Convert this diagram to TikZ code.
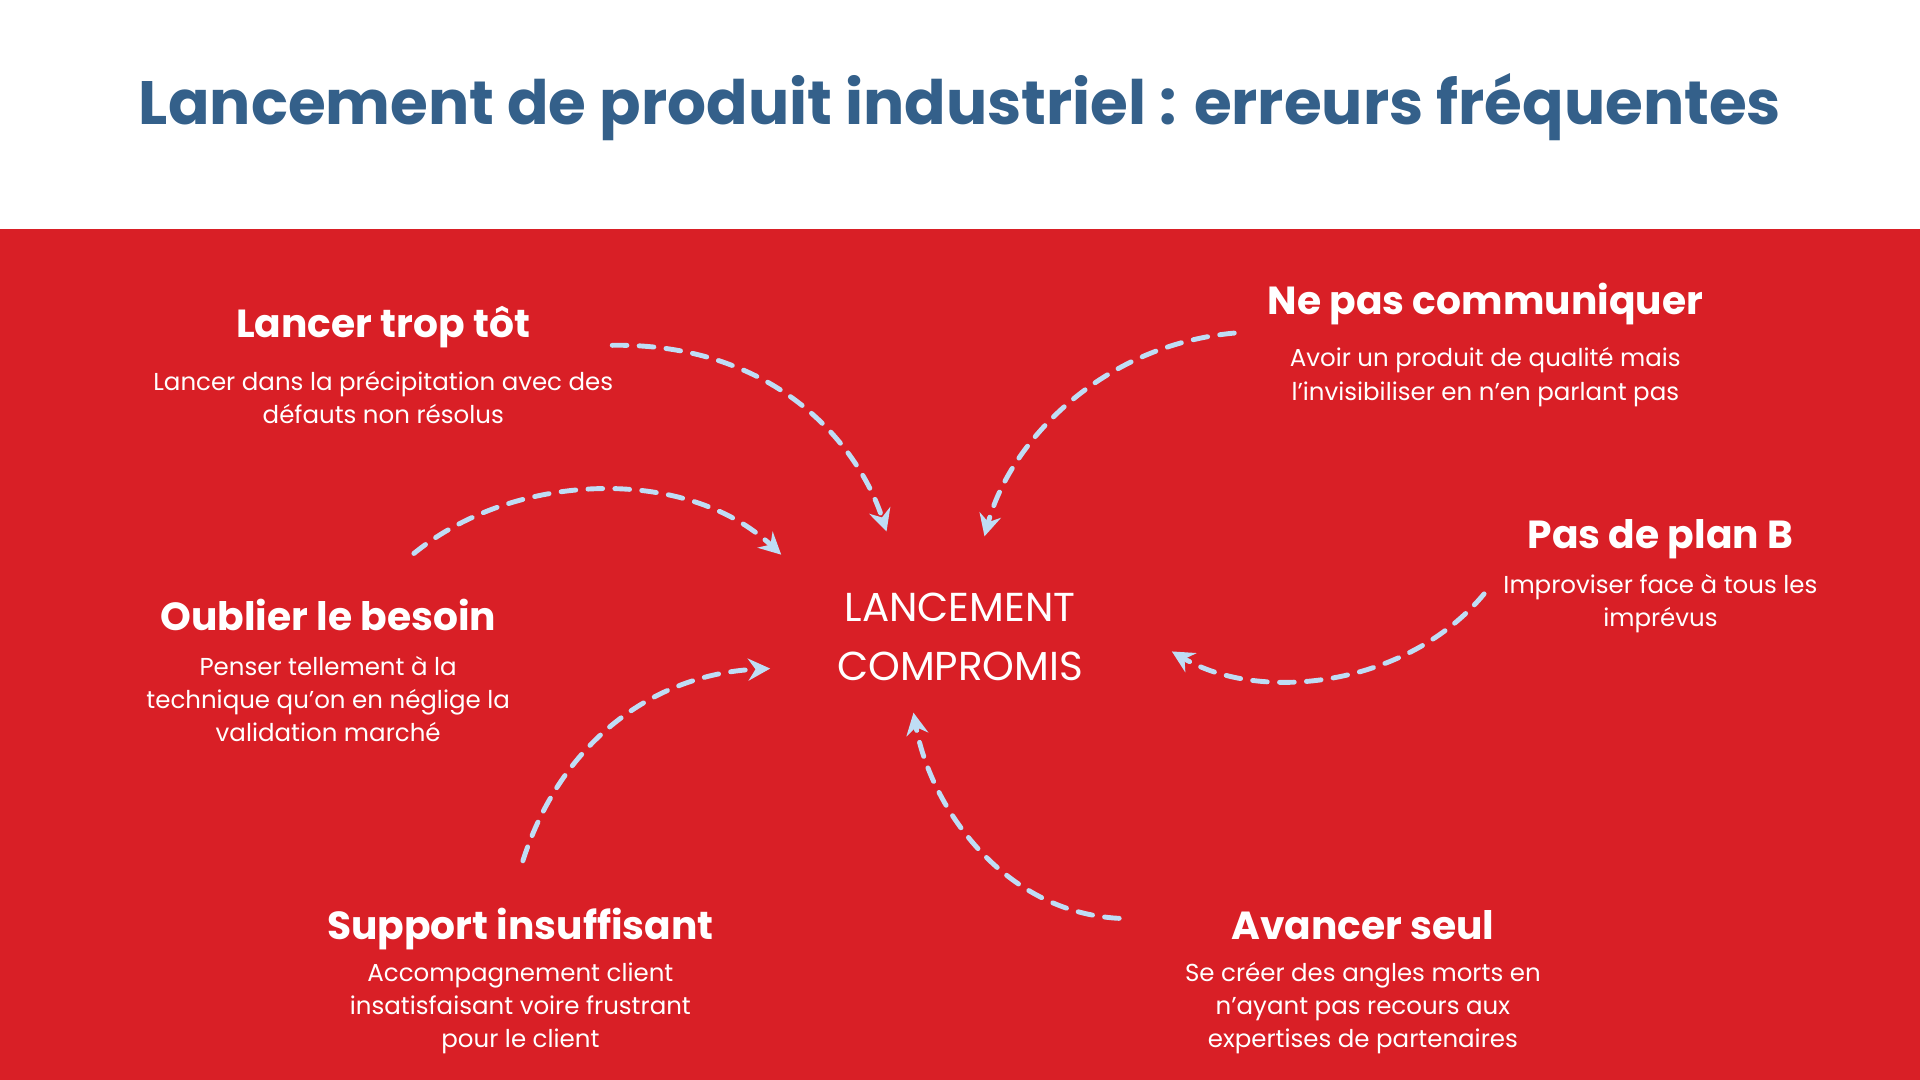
\documentclass[tikz,border=0pt]{standalone}
\usepackage{fontspec}
\setmainfont{Poppins}
\usetikzlibrary{arrows.meta}
\definecolor{bgred}{HTML}{D91F26}
\definecolor{titleblue}{HTML}{34608A}
\definecolor{arrowblue}{HTML}{BFDDF5}
\tikzset{
 head/.style={text=white,font=\fontsize{16}{19}\selectfont\bfseries,anchor=base},
 body/.style={text=white,font=\fontsize{10}{13.5}\selectfont,align=center,anchor=north},
 conn/.style={draw=arrowblue,line width=2pt,dash pattern=on 6pt off 5pt,line cap=round,-{Stealth[length=9pt,width=9pt,inset=3pt]}}
}
\begin{document}
\begin{tikzpicture}[x=0.5pt,y=-0.5pt]
\useasboundingbox (0,0) rectangle (1568,882);
\fill[white] (0,0) rectangle (1568,187);
\fill[bgred] (0,187) rectangle (1568,882);
\node[text=titleblue,font=\fontsize{25}{30}\selectfont\bfseries,anchor=base] (title) at (784,102) {Lancement de produit industriel : erreurs fréquentes};
\node[text=white,font=\fontsize{16.5}{24}\selectfont,align=center] (center) at (784,520) {LANCEMENT\\COMPROMIS};

\node[head] (h1) at (313,276) {Lancer trop tôt};
\node[body] (b1) at (313,296) {Lancer dans la précipitation avec des\\défauts non résolus};
\node[head] (h2) at (1213,257) {Ne pas communiquer};
\node[body] (b2) at (1213,277) {Avoir un produit de qualité mais\\l’invisibiliser en n’en parlant pas};
\node[head] (h3) at (268,515) {Oublier le besoin};
\node[body] (b3) at (268,529) {Penser tellement à la\\technique qu’on en néglige la\\validation marché};
\node[head] (h4) at (1356,448) {Pas de plan B};
\node[body] (b4) at (1356,462) {Improviser face à tous les\\imprévus};
\node[head] (h5) at (425,767) {Support insuffisant};
\node[body] (b5) at (425,779) {Accompagnement client\\insatisfaisant voire frustrant\\pour le client};
\node[head] (h6) at (1113,767) {Avancer seul};
\node[body] (b6) at (1113,779) {Se créer des angles morts en\\n’ayant pas recours aux\\expertises de partenaires};

\coordinate (s1) at (500,282); \coordinate (e1) at (724,434);
\coordinate (s2) at (1008,272); \coordinate (e2) at (804,438);
\coordinate (s3) at (338,452); \coordinate (e3) at (638,453);
\coordinate (s4) at (1212,485); \coordinate (e4) at (957,532);
\coordinate (s5) at (427,703); \coordinate (e5) at (629,546);
\coordinate (s6) at (914,750); \coordinate (e6) at (746,582);
\draw[conn] (s1) .. controls (630,280) and (700,360) .. (e1);
\draw[conn] (s2) .. controls (900,282) and (825,360) .. (e2);
\draw[conn] (s3) .. controls (420,385) and (560,380) .. (e3);
\draw[conn] (s4) .. controls (1150,560) and (1030,575) .. (e4);
\draw[conn] (s5) .. controls (460,600) and (540,550) .. (e5);
\draw[conn] (s6) .. controls (820,745) and (760,660) .. (e6);
\end{tikzpicture}
\end{document}
